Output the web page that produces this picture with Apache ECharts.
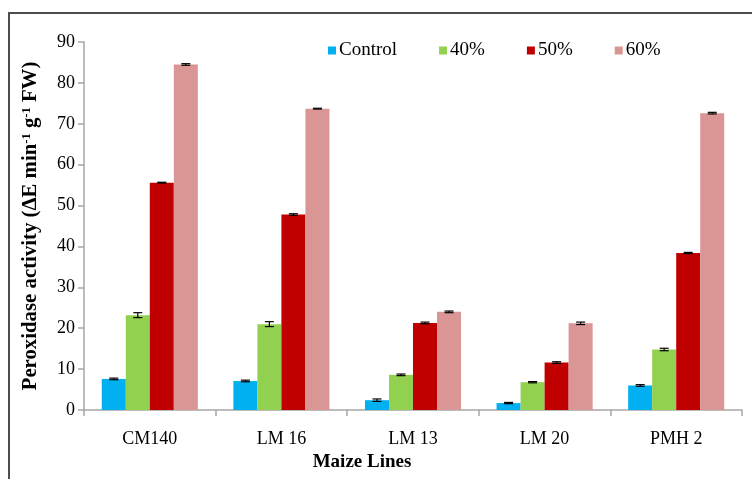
<!DOCTYPE html>
<html>
<head>
<meta charset="utf-8">
<style>
  html, body { margin: 0; padding: 0; background: #fff; }
  #chart { width: 752px; height: 479px; }
</style>
<script src="https://cdn.jsdelivr.net/npm/echarts@6/dist/echarts.min.js"></script>
</head>
<body>
<div id="chart"></div>
<script>
// Maize lines and peroxidase activity under each treatment
const categories = ['CM140', 'LM 16', 'LM 13', 'LM 20', 'PMH 2'];
const seriesNames = ['Control', '40%', '50%', '60%'];
const seriesColors = ['#00B0F0', '#92D050', '#C00000', '#DA9694'];

const controlValues = [7.6, 7.1, 2.4, 1.7, 6.0];
const pct40Values   = [23.2, 21.0, 8.6, 6.8, 14.8];
const pct50Values   = [55.6, 47.8, 21.3, 11.6, 38.4];
const pct60Values   = [84.5, 73.7, 24.0, 21.2, 72.6];

const controlErrors = [0.2, 0.2, 0.3, 0.15, 0.2];
const pct40Errors   = [0.6, 0.6, 0.2, 0.15, 0.3];
const pct50Errors   = [0.1, 0.2, 0.2, 0.2, 0.15];
const pct60Errors   = [0.2, 0.1, 0.2, 0.3, 0.2];

const yTicks = { min: 0, max: 90, interval: 10 };

const allValues = [controlValues, pct40Values, pct50Values, pct60Values];
const allErrors = [controlErrors, pct40Errors, pct50Errors, pct60Errors];

const CATEGORY_GAP = 0.27;
const serif = '"Liberation Serif", "Times New Roman", serif';

function errorSeries(idx) {
  const data = categories.map((c, i) => [i, allValues[idx][i], allErrors[idx][i]]);
  return {
    type: 'custom',
    name: seriesNames[idx] + ' error',
    data: data,
    z: 10,
    silent: true,
    renderItem: function (params, api) {
      const ci = api.value(0);
      const v = api.value(1);
      const e = api.value(2);
      const band = api.size([1, 0])[0];
      const barW = band * (1 - CATEGORY_GAP) / 4;
      const center = api.coord([ci, v]);
      const x = center[0] + (idx - 1.5) * barW;
      const yHi = api.coord([ci, v + e])[1];
      const yLo = api.coord([ci, v - e])[1];
      const cap = 4.5;
      const style = { stroke: '#000', lineWidth: 1.2 };
      return {
        type: 'group',
        children: [
          { type: 'line', shape: { x1: x, y1: yHi, x2: x, y2: yLo }, style: style },
          { type: 'line', shape: { x1: x - cap, y1: yHi, x2: x + cap, y2: yHi }, style: style },
          { type: 'line', shape: { x1: x - cap, y1: yLo, x2: x + cap, y2: yLo }, style: style }
        ]
      };
    }
  };
}

const barSeries = seriesNames.map((name, idx) => ({
  type: 'bar',
  name: name,
  data: allValues[idx],
  barGap: '0%',
  barCategoryGap: (CATEGORY_GAP * 100) + '%',
  itemStyle: { color: seriesColors[idx] }
}));

const chart = echarts.init(document.getElementById('chart'), null, { renderer: 'canvas' });
chart.setOption({
  animation: false,
  backgroundColor: '#fff',
  grid: { left: 84, right: 10, top: 42, bottom: 69, containLabel: false, outerBoundsMode: 'none' },
  legend: {
    data: seriesNames,
    left: 323,
    top: 36,
    itemWidth: 8,
    itemHeight: 8,
    itemGap: 42,
    icon: 'rect',
    textStyle: { fontFamily: serif, fontSize: 19, color: '#000', padding: [0, 0, 0, -2] }
  },
  xAxis: {
    type: 'category',
    data: categories,
    axisLine: { lineStyle: { color: '#A6A6A6', width: 1.5 } },
    axisTick: { show: true, length: 6, alignWithLabel: false, lineStyle: { color: '#A6A6A6', width: 1.5 } },
    axisLabel: { fontFamily: serif, fontSize: 18, color: '#000', margin: 20 },
    name: 'Maize Lines',
    nameLocation: 'middle',
    nameGap: 43,
    nameTextStyle: { fontFamily: serif, fontSize: 19, fontWeight: 'bold', color: '#000', padding: [0, 102, 0, 0] }
  },
  yAxis: {
    type: 'value',
    min: yTicks.min,
    max: yTicks.max,
    interval: yTicks.interval,
    splitLine: { show: false },
    axisLine: { show: true, lineStyle: { color: '#A6A6A6', width: 1.5 } },
    axisTick: { show: true, length: 6, lineStyle: { color: '#A6A6A6', width: 1.5 } },
    axisLabel: { fontFamily: serif, fontSize: 18, color: '#000', margin: 9 },
    name: 'Peroxidase activity (ΔE min{sup|-1} g{sup|-1} FW)',
    nameLocation: 'middle',
    nameRotate: 90,
    nameGap: 42,
    nameTextStyle: {
      fontFamily: serif, fontSize: 20.8, fontWeight: 'bold', color: '#000',
      rich: {
        sup: { fontFamily: serif, fontSize: 12.5, fontWeight: 'bold', color: '#000', verticalAlign: 'top', padding: [0, 0, 9, 0] }
      }
    }
  },
  series: barSeries.concat([0, 1, 2, 3].map(errorSeries)),
  graphic: [{
    type: 'rect',
    shape: { x: 9, y: 13, width: 800, height: 520 },
    style: { fill: 'none', stroke: '#4D4D4D', lineWidth: 2 },
    silent: true
  }]
});
</script>
</body>
</html>
